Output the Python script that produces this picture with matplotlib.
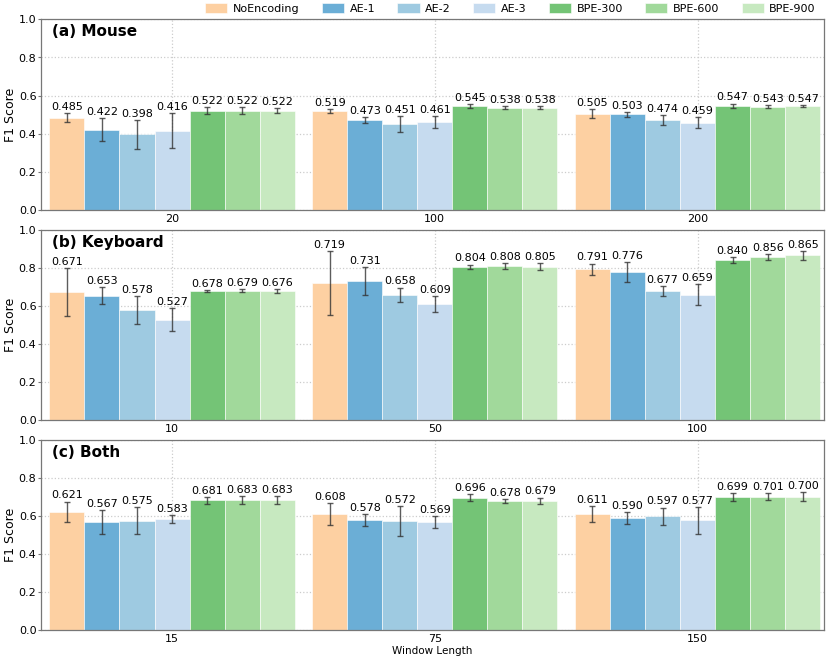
import matplotlib
matplotlib.use("Agg")
import matplotlib.pyplot as plt
import numpy as np

methods = ["NoEncoding", "AE-1", "AE-2", "AE-3", "BPE-300", "BPE-600", "BPE-900"]
colors = ["#fdd0a2", "#6baed6", "#9ecae1", "#c6dbef", "#74c476", "#a1d99b", "#c7e9c0"]

panel_titles = ["(a) Mouse", "(b) Keyboard", "(c) Both"]
window_labels = [["20", "100", "200"], ["10", "50", "100"], ["15", "75", "150"]]

# values[panel][method][window]
mouse_vals = [
    [0.485, 0.519, 0.505],
    [0.422, 0.473, 0.503],
    [0.398, 0.451, 0.474],
    [0.416, 0.461, 0.459],
    [0.522, 0.545, 0.547],
    [0.522, 0.538, 0.543],
    [0.522, 0.538, 0.547],
]
mouse_err = [
    [0.022, 0.011, 0.024],
    [0.061, 0.016, 0.012],
    [0.076, 0.041, 0.025],
    [0.092, 0.031, 0.030],
    [0.017, 0.011, 0.012],
    [0.017, 0.009, 0.010],
    [0.014, 0.009, 0.006],
]
keyboard_vals = [
    [0.671, 0.719, 0.791],
    [0.653, 0.731, 0.776],
    [0.578, 0.658, 0.677],
    [0.527, 0.609, 0.659],
    [0.678, 0.804, 0.840],
    [0.679, 0.808, 0.856],
    [0.676, 0.805, 0.865],
]
keyboard_err = [
    [0.126, 0.167, 0.031],
    [0.045, 0.073, 0.052],
    [0.074, 0.038, 0.026],
    [0.060, 0.041, 0.054],
    [0.007, 0.013, 0.016],
    [0.007, 0.015, 0.017],
    [0.011, 0.018, 0.022],
]
both_vals = [
    [0.621, 0.608, 0.611],
    [0.567, 0.578, 0.590],
    [0.575, 0.572, 0.597],
    [0.583, 0.569, 0.577],
    [0.681, 0.696, 0.699],
    [0.683, 0.678, 0.701],
    [0.683, 0.679, 0.700],
]
both_err = [
    [0.054, 0.058, 0.041],
    [0.064, 0.031, 0.031],
    [0.070, 0.079, 0.046],
    [0.021, 0.031, 0.070],
    [0.019, 0.020, 0.020],
    [0.019, 0.012, 0.018],
    [0.019, 0.017, 0.024],
]

all_vals = [mouse_vals, keyboard_vals, both_vals]
all_errs = [mouse_err, keyboard_err, both_err]

fig = plt.figure(figsize=(8.3, 6.64), dpi=100)
W, H = 830, 664
left_px, right_px = 41.3, 823.7
panels_px = [(19.3, 210.3), (229.7, 420.0), (439.7, 630.0)]

bw = 0.1334
x = np.arange(3)
axes = []
for p in range(3):
    top, bot = panels_px[p]
    ax = fig.add_axes([left_px / W, 1 - bot / H, (right_px - left_px) / W, (bot - top) / H])
    axes.append(ax)
    ax.set_axisbelow(True)
    ax.grid(True, color="#cccccc", linestyle=":", linewidth=0.9)
    vals = all_vals[p]
    errs = all_errs[p]
    for i, m in enumerate(methods):
        pos = x + (i - 3) * bw
        ax.bar(pos, vals[i], width=bw, color=colors[i], label=m,
               edgecolor="white", linewidth=0.4)
        ax.errorbar(pos, vals[i], yerr=errs[i], fmt="none", ecolor="#333333",
                    elinewidth=1.0, capsize=2, capthick=1.0, alpha=0.8)
        for j in range(3):
            ax.text(pos[j], vals[i][j] + errs[i][j] + 0.006, f"{vals[i][j]:.3f}",
                    ha="center", va="bottom", fontsize=8)
    ax.set_xlim(-0.4975, 2.48)
    ax.set_ylim(0, 1.0)
    ax.set_yticks([0.0, 0.2, 0.4, 0.6, 0.8, 1.0])
    ax.set_xticks(x)
    ax.set_xticklabels(window_labels[p])
    ax.tick_params(axis="y", labelsize=8, length=2.5, pad=1, color="#777777")
    ax.tick_params(axis="x", labelsize=8, length=0, pad=3, color="#777777")
    for s in ax.spines.values():
        s.set_color("#777777")
        s.set_linewidth(0.9)
    ax.set_ylabel("F1 Score", fontsize=9)
    ax.yaxis.set_label_coords(-0.031, 0.5)
    ax.text(0.014, 0.935, panel_titles[p], transform=ax.transAxes,
            fontsize=11, fontweight="bold", ha="left", va="center")

axes[2].set_xlabel("Window Length", fontsize=7.5, labelpad=1)

handles, labels = axes[0].get_legend_handles_labels()
fig.legend(handles, labels, loc="center right", bbox_to_anchor=(0.995, 0.987),
           ncol=7, frameon=False, fontsize=8, handlelength=2.0,
           handletextpad=0.5, columnspacing=2.0, handleheight=0.9)

fig.savefig("out.png", dpi=100)
